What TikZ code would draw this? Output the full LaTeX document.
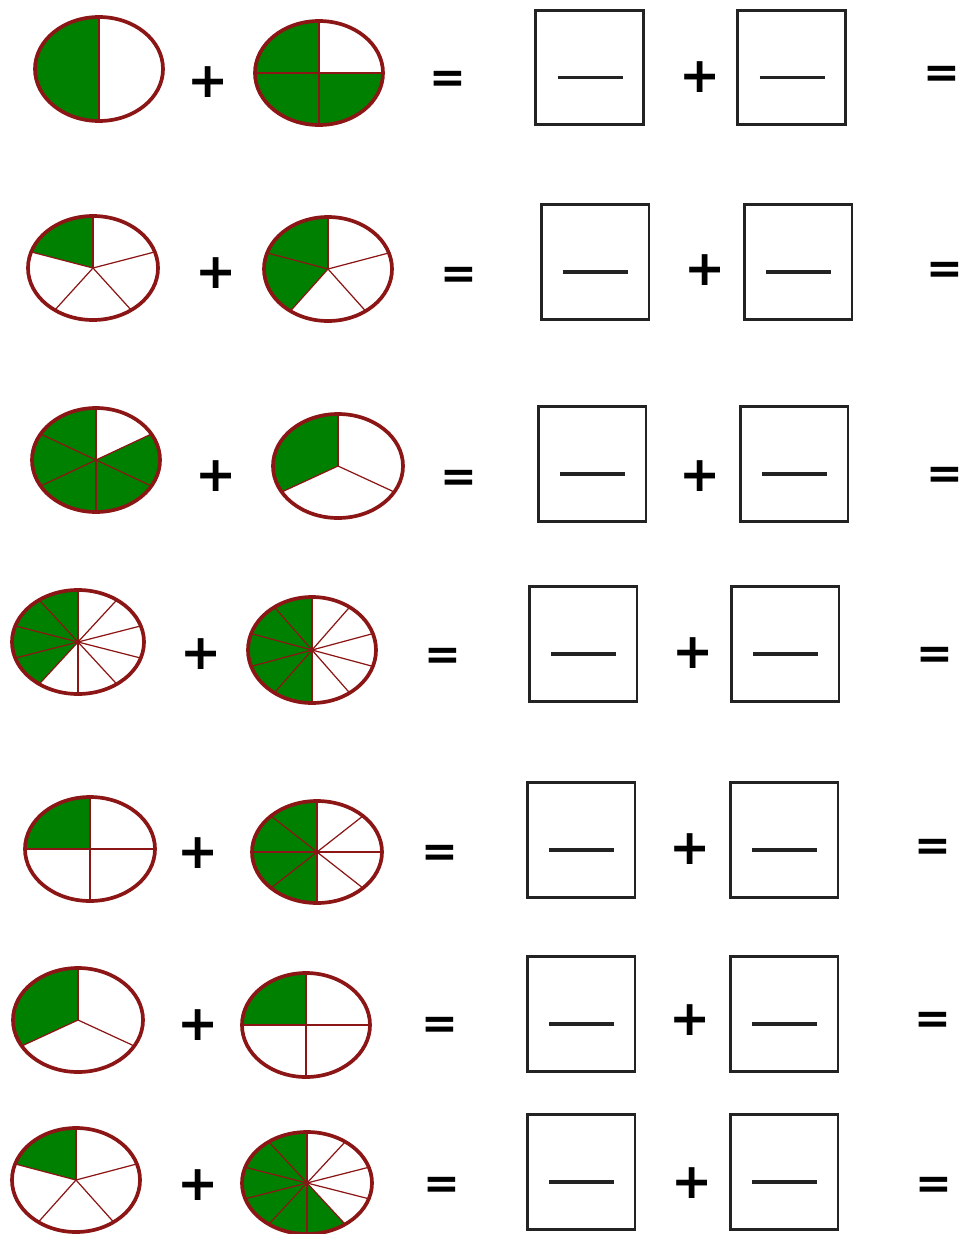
\documentclass[tikz,border=0pt]{standalone}
\usepackage{fontspec}
\usepackage{tikz}
\newfontfamily\signfont{DejaVu Sans}
\definecolor{sectgreen}{RGB}{0,128,0}
\definecolor{rimred}{RGB}{140,22,22}
\definecolor{boxgray}{RGB}{35,35,35}

% pie: centre x, centre y, x radius, y radius, parts, shaded parts
\newcommand{\fracpie}[6]{%
  \fill[piefill] (#1,#2) -- +(-90:#3 and #4)
    arc[start angle=-90, end angle={-90-360*#6/#5}, x radius=#3, y radius=#4] -- cycle;
  \foreach \s in {1,...,#5}
    \draw[pieline] (#1,#2) -- +({-90-360*\s/#5}:#3 and #4);
  \draw[pierim] (#1,#2) ellipse[x radius=#3, y radius=#4];
}

\begin{document}
\begin{tikzpicture}[
  x=0.02cm, y=-0.02cm,
  piefill/.style={fill=sectgreen},
  pieline/.style={draw=rimred, line width=0.7pt},
  pierim/.style={draw=rimred, line width=2.1pt},
  ansbox/.style={draw=boxgray, line width=1.7pt, minimum width=2.16cm, minimum height=2.3cm, inner sep=0pt},
  fracbar/.style={draw=boxgray, line width=1.8pt},
  plussign/.style={font=\signfont\bfseries\fontsize{28}{28}\selectfont, inner sep=0pt},
  eqsign/.style={font=\signfont\bfseries\fontsize{25}{25}\selectfont, inner sep=0pt}
]
\useasboundingbox (0,0) rectangle (964,1234);

\fracpie{99}{69}{64}{52}{2}{1}
\node[plussign] (p1a) at (208,82) {+};
\fracpie{319}{73}{64}{52}{4}{3}
\node[eqsign] (e1a) at (448,82) {=};
\node[ansbox] (b1a) at (589.5,67.5) {};
\node[plussign] (p1b) at (700,77) {+};
\node[ansbox] (b1b) at (791.5,67.5) {};
\node[eqsign] (e1b) at (942,77) {=};

\fracpie{93}{268}{65}{52}{5}{1}
\node[plussign] (p2a) at (216,273) {+};
\fracpie{328}{269}{64}{52}{5}{2}
\node[eqsign] (e2a) at (459,278) {=};
\node[ansbox] (b2a) at (595,262) {};
\node[plussign] (p2b) at (705,270) {+};
\node[ansbox] (b2b) at (798,262) {};
\node[eqsign] (e2b) at (945,273) {=};

\fracpie{96}{460}{64}{52}{6}{5}
\node[plussign] (p3a) at (216,476) {+};
\fracpie{338}{466}{65}{52}{3}{1}
\node[eqsign] (e3a) at (459,481) {=};
\node[ansbox] (b3a) at (592,464) {};
\node[plussign] (p3b) at (700,476) {+};
\node[ansbox] (b3b) at (794,464) {};
\node[eqsign] (e3b) at (945,478) {=};

\fracpie{78}{642}{66}{52}{10}{4}
\node[plussign] (p4a) at (201,654) {+};
\fracpie{312}{650}{64}{53}{10}{5}
\node[eqsign] (e4a) at (443,659) {=};
\node[ansbox] (b4a) at (583,644) {};
\node[plussign] (p4b) at (693,653) {+};
\node[ansbox] (b4b) at (785,644) {};
\node[eqsign] (e4b) at (935,658) {=};

\fracpie{90}{849}{65}{52}{4}{1}
\node[plussign] (p5a) at (198,853) {+};
\fracpie{317}{852}{65}{51}{8}{4}
\node[eqsign] (e5a) at (440,856) {=};
\node[ansbox] (b5a) at (581,840) {};
\node[plussign] (p5b) at (690,849) {+};
\node[ansbox] (b5b) at (784,840) {};
\node[eqsign] (e5b) at (933,850) {=};

\fracpie{78}{1020}{65}{52}{3}{1}
\node[plussign] (p6a) at (198,1025) {+};
\fracpie{306}{1025}{64}{52}{4}{1}
\node[eqsign] (e6a) at (440,1028) {=};
\node[ansbox] (b6a) at (581,1014) {};
\node[plussign] (p6b) at (690,1020) {+};
\node[ansbox] (b6b) at (784,1014) {};
\node[eqsign] (e6b) at (933,1023) {=};

\fracpie{76}{1180}{64}{52}{5}{1}
\node[plussign] (p7a) at (198,1185) {+};
\fracpie{307}{1183}{65}{51}{10}{6}
\node[eqsign] (e7a) at (442,1188) {=};
\node[ansbox] (b7a) at (581,1172) {};
\node[plussign] (p7b) at (692,1183) {+};
\node[ansbox] (b7b) at (784,1172) {};
\node[eqsign] (e7b) at (934,1188) {=};

\foreach \b in {b1a,b1b,b2a,b2b,b3a,b3b,b4a,b4b,b5a,b5b,b6a,b6b,b7a,b7b}
  \draw[fracbar] ([shift={(-32,10)}]\b.center) -- ([shift={(33,10)}]\b.center);
\end{tikzpicture}
\end{document}
